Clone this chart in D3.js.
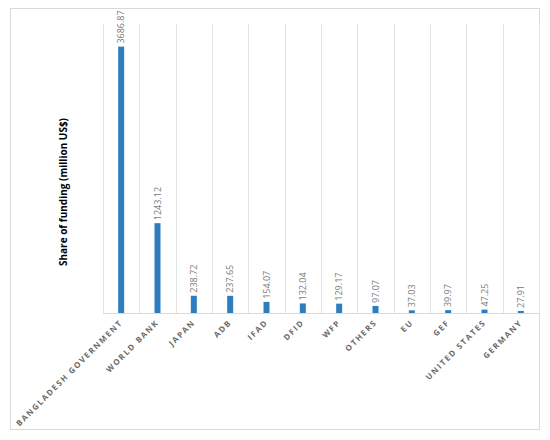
<!DOCTYPE html>
<meta charset="utf-8">
<script src="https://cdn.jsdelivr.net/npm/d3@7"></script>
<style>
 body { margin: 0; background: #fff; }
 text { font-family: "Open Sans", "Liberation Sans", sans-serif; }
</style>
<div id="container"></div>
<script>
 // chart data
 var donors = ["BANGLADESH GOVERNMENT", "WORLD BANK", "JAPAN", "ADB", "IFAD", "DFID",
               "WFP", "OTHERS", "EU", "GEF", "UNITED STATES", "GERMANY"];
 var funding = [3686.87, 1243.12, 238.72, 237.65, 154.07, 132.04,
                129.17, 97.07, 37.03, 39.97, 47.25, 27.91];
 var valueLabels = ["3686.87", "1243.12", "238.72", "237.65", "154.07", "132.04",
                    "129.17", "97.07", "37.03", "39.97", "47.25", "27.91"];
 var yTitle = "Share of funding (million US$)";

 var width = 550, height = 440;
 var plot = {left: 103, right: 539, top: 24, bottom: 313};

 var svg = d3.select("#container").append("svg")
             .attr("width", width)
             .attr("height", height);

 // outer frame
 svg.append("rect")
    .attr("x", 10.5).attr("y", 8.5)
    .attr("width", 529).attr("height", 421)
    .attr("fill", "none")
    .attr("stroke", "#d9d9d9");

 var x = d3.scaleBand()
           .domain(donors)
           .range([plot.left, plot.right]);

 var y = d3.scaleLinear()
           .domain([0, 4000])
           .range([plot.bottom, plot.top]);

 // vertical category separators
 var edges = donors.map(d => x(d)).concat([plot.right]);
 svg.append("g").selectAll("line")
    .data(edges)
    .enter().append("line")
    .attr("x1", d => Math.round(d) + 0.5)
    .attr("x2", d => Math.round(d) + 0.5)
    .attr("y1", plot.top)
    .attr("y2", plot.bottom)
    .attr("stroke", "#e3e3e3");

 // baseline
 svg.append("line")
    .attr("x1", plot.left).attr("x2", plot.right)
    .attr("y1", plot.bottom + 0.5).attr("y2", plot.bottom + 0.5)
    .attr("stroke", "#d9d9d9");

 var barW = 6;
 svg.append("g").selectAll("rect")
    .data(funding)
    .enter().append("rect")
    .attr("x", (d, i) => x(donors[i]) + x.bandwidth() / 2 - barW / 2)
    .attr("y", d => y(d))
    .attr("width", barW)
    .attr("height", d => plot.bottom - y(d))
    .attr("fill", "#2e7ebf");

 // value labels, rotated
 svg.append("g").selectAll("text")
    .data(funding)
    .enter().append("text")
    .attr("transform", (d, i) => `translate(${x(donors[i]) + x.bandwidth() / 2},${y(d) - 3}) rotate(-90)`)
    .attr("dy", "0.35em")
    .attr("font-size", "9px")
    .attr("fill", "#7a7a7a")
    .text((d, i) => valueLabels[i]);

 // category labels
 svg.append("g").selectAll("text")
    .data(donors)
    .enter().append("text")
    .attr("transform", d => `translate(${x(d) + x.bandwidth() / 2 + 2},${plot.bottom + 10}) rotate(-45)`)
    .attr("text-anchor", "end")
    .attr("font-size", "8px")
    .attr("font-weight", "700")
    .attr("letter-spacing", "1.6px")
    .attr("fill", "#6b6b6b")
    .text(d => d);

 // y axis title
 svg.append("text")
    .attr("transform", "translate(63,192) rotate(-90)")
    .attr("text-anchor", "middle")
    .attr("dy", "0.35em")
    .attr("font-size", "10px")
    .attr("font-weight", "700")
    .attr("fill", "#000")
    .text(yTitle);
</script>
